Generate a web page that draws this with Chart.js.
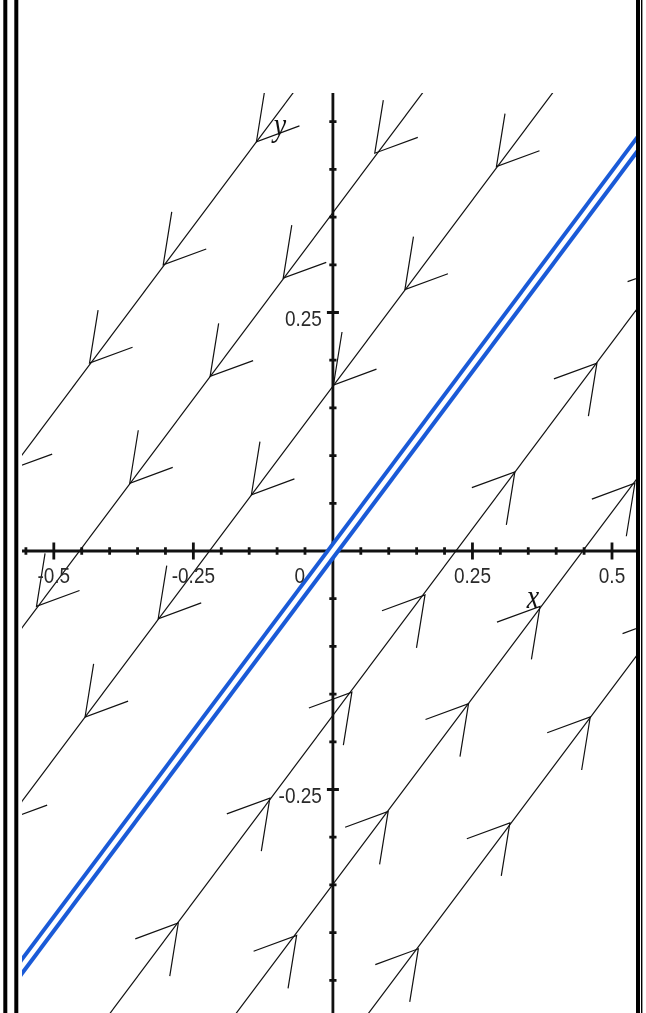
<!DOCTYPE html>
<html>
<head>
<meta charset="utf-8">
<script src="https://cdn.jsdelivr.net/npm/chart.js@4.4.0/dist/chart.umd.min.js"></script>
<style>
  html, body { margin: 0; padding: 0; background: #fff; }
  canvas { display: block; }
</style>
</head>
<body>
<canvas id="phase-chart" width="646" height="1013"></canvas>
<script>
// line of equilibria, drawn as the double blue line
const equilibriaLine = [[-0.6, -0.469], [0.6, 0.469]];

// straight trajectories, two points each
const trajectories = [
  [[-0.6, 0.067], [-0.046, 0.5]],
  [[-0.6, -0.114], [0.186, 0.5]],
  [[-0.6, -0.296], [0.419, 0.5]],
  [[-0.419, -0.5], [0.6, 0.297]],
  [[-0.193, -0.5], [0.6, 0.119]],
  [[0.044, -0.5], [0.6, -0.066]]
];

// -1 = flow toward lower left, 1 = toward upper right
const flowDirection = [-1, -1, -1, 1, 1, 1];

// arrow tips on each trajectory
const arrowTips = [
  [[-0.580, 0.085], [-0.436, 0.197], [-0.304, 0.300], [-0.137, 0.429]],
  [[-0.531, -0.058], [-0.364, 0.071], [-0.220, 0.183], [-0.089, 0.286], [0.075, 0.417]],
  [[-0.589, -0.283], [-0.444, -0.174], [-0.313, -0.071], [-0.146, 0.059], [0.001, 0.174], [0.129, 0.274], [0.293, 0.403]],
  [[-0.277, -0.390], [-0.113, -0.259], [0.034, -0.148], [0.165, -0.046], [0.326, 0.083], [0.473, 0.197], [0.605, 0.299]],
  [[-0.065, -0.403], [0.099, -0.273], [0.243, -0.160], [0.371, -0.058], [0.541, 0.071]],
  [[0.153, -0.417], [0.317, -0.285], [0.461, -0.174], [0.596, -0.070]]
];

const xMajorTicks = [-0.5, -0.25, 0, 0.25, 0.5];
const xTickLabels = ['-0.5', '-0.25', '0', '0.25', '0.5'];
const xMinorTicks = [-0.55, -0.45, -0.4, -0.35, -0.3, -0.2, -0.15, -0.1, -0.05, 0.05, 0.1, 0.15, 0.2, 0.3, 0.35, 0.4, 0.45];
const yMajorTicks = [-0.25, 0.25];
const yTickLabels = ['-0.25', '0.25'];
const yMinorTicks = [-0.45, -0.4, -0.35, -0.3, -0.2, -0.15, -0.1, -0.05, 0.05, 0.1, 0.15, 0.2, 0.3, 0.35, 0.4, 0.45];

const STRETCH = 1.2; // the picture is stretched a bit vertically
const toXY = p => ({ x: p[0], y: p[1] });

const phaseDecor = {
  id: 'phaseDecor',
  beforeDatasetsDraw(chart) {
    const { ctx, chartArea: a, scales: { x, y } } = chart;
    const x0 = x.getPixelForValue(0);
    const y0 = y.getPixelForValue(0);
    ctx.save();
    ctx.strokeStyle = '#111';
    ctx.lineWidth = 2.8;
    ctx.beginPath();
    ctx.moveTo(a.left, y0); ctx.lineTo(a.right, y0);
    ctx.moveTo(x0, a.top); ctx.lineTo(x0, a.bottom);
    ctx.stroke();

    // tick marks cross the axes
    ctx.beginPath();
    xMajorTicks.forEach(v => { const p = x.getPixelForValue(v); ctx.moveTo(p, y0 - 8.5); ctx.lineTo(p, y0 + 8.5); });
    xMinorTicks.forEach(v => { const p = x.getPixelForValue(v); ctx.moveTo(p, y0 - 3.8); ctx.lineTo(p, y0 + 3.8); });
    yMajorTicks.forEach(v => { const p = y.getPixelForValue(v); ctx.moveTo(x0 - 6, p); ctx.lineTo(x0 + 6, p); });
    yMinorTicks.forEach(v => { const p = y.getPixelForValue(v); ctx.moveTo(x0 - 3.6, p); ctx.lineTo(x0 + 3.6, p); });
    ctx.stroke();
    ctx.restore();
  },
  afterDatasetsDraw(chart) {
    const { ctx, chartArea: a, scales: { x, y } } = chart;
    const x0 = x.getPixelForValue(0);
    const y0 = y.getPixelForValue(0);

    // arrowheads
    ctx.save();
    ctx.beginPath();
    ctx.rect(a.left, a.top, a.right - a.left, a.bottom - a.top);
    ctx.clip();
    ctx.strokeStyle = '#111';
    ctx.lineWidth = 1.2;
    trajectories.forEach((t, i) => {
      const dx = x.getPixelForValue(t[1][0]) - x.getPixelForValue(t[0][0]);
      const dy = (y.getPixelForValue(t[1][1]) - y.getPixelForValue(t[0][1])) / STRETCH;
      const back = Math.atan2(-flowDirection[i] * dy, -flowDirection[i] * dx);
      arrowTips[i].forEach(tip => {
        const px = x.getPixelForValue(tip[0]);
        const py = y.getPixelForValue(tip[1]);
        const spread = 31 * Math.PI / 180;
        const len = 45;
        ctx.beginPath();
        ctx.moveTo(px + Math.cos(back + spread) * len, py + Math.sin(back + spread) * len * STRETCH);
        ctx.lineTo(px, py);
        ctx.lineTo(px + Math.cos(back - spread) * len, py + Math.sin(back - spread) * len * STRETCH);
        ctx.stroke();
      });
    });
    ctx.restore();

    // tick labels
    ctx.save();
    ctx.fillStyle = '#2a2a2a';
    ctx.font = '19px "Liberation Sans", Arial, sans-serif';
    ctx.textBaseline = 'alphabetic';
    ctx.textAlign = 'center';
    xMajorTicks.forEach((v, i) => {
      let p = x.getPixelForValue(v);
      if (v === 0) p -= 33;
      ctx.save();
      ctx.translate(p, y0 + 32);
      ctx.scale(1, STRETCH);
      ctx.fillText(xTickLabels[i], 0, 0);
      ctx.restore();
    });
    ctx.textAlign = 'right';
    yMajorTicks.forEach((v, i) => {
      ctx.save();
      ctx.translate(x0 - 11, y.getPixelForValue(v) + 13.5);
      ctx.scale(1, STRETCH);
      ctx.fillText(yTickLabels[i], 0, 0);
      ctx.restore();
    });

    // axis names
    ctx.font = 'italic 28px "Liberation Serif", "Times New Roman", serif';
    ctx.fillStyle = '#111';
    ctx.textAlign = 'center';
    ctx.save();
    ctx.translate(x0 + 200, y0 + 57);
    ctx.scale(1, STRETCH);
    ctx.fillText('x', 0, 0);
    ctx.restore();
    ctx.save();
    ctx.translate(x0 - 53, a.top + 43);
    ctx.scale(1, STRETCH);
    ctx.fillText('y', 0, 0);
    ctx.restore();

    // double frame lines
    const h = chart.height;
    ctx.fillStyle = '#000';
    ctx.fillRect(3.3, 0, 4, h);
    ctx.fillRect(14.3, 0, 4, h);
    ctx.fillRect(a.right, 0, 4, h);
    ctx.fillRect(a.right + 5, 0, 1.4, h);
    ctx.restore();
  }
};

const blackLines = trajectories.map(t => ({
  data: t.map(toXY),
  borderColor: '#111',
  borderWidth: 1.2,
  showLine: true,
  pointRadius: 0,
  clip: 0,
  order: 2
}));

const ctx = document.getElementById('phase-chart').getContext('2d');
new Chart(ctx, {
  type: 'scatter',
  data: {
    datasets: [
      {
        data: equilibriaLine.map(toXY),
        borderColor: '#ffffff',
        borderWidth: 4.5,
        showLine: true,
        pointRadius: 0,
        clip: 0,
        order: 0
      },
      {
        data: equilibriaLine.map(toXY),
        borderColor: '#1a5ad7',
        borderWidth: 12.5,
        showLine: true,
        pointRadius: 0,
        clip: 0,
        order: 1
      },
      ...blackLines
    ]
  },
  options: {
    responsive: false,
    animation: false,
    layout: { padding: { left: 22, right: 10, top: 93, bottom: 0 } },
    scales: {
      x: { type: 'linear', min: -0.557, max: 0.543, display: false },
      y: { type: 'linear', min: -0.4843, max: 0.4801, display: false }
    },
    plugins: {
      legend: { display: false },
      tooltip: { enabled: false }
    }
  },
  plugins: [phaseDecor]
});
</script>
</body>
</html>
